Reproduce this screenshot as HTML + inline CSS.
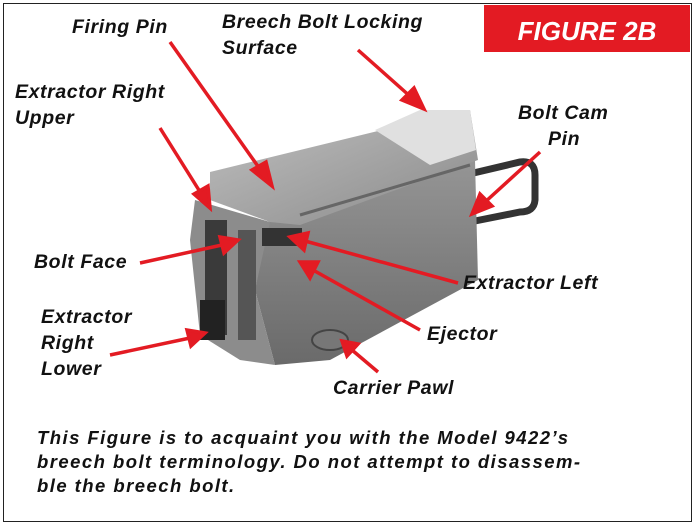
<!DOCTYPE html>
<html><head><meta charset="utf-8"><style>
html,body{margin:0;padding:0;background:#fff;}
body{width:696px;height:527px;position:relative;overflow:hidden;font-family:"Liberation Sans",sans-serif;}
.l{position:absolute;font-weight:bold;font-style:italic;font-size:19.5px;letter-spacing:0.6px;color:#111;line-height:26px;white-space:nowrap;}
</style></head><body>
<svg width="696" height="527" style="position:absolute;left:0;top:0">
<rect x="3.5" y="3.5" width="688" height="518" fill="none" stroke="#222" stroke-width="1"/>
<rect x="484" y="5" width="206" height="47" fill="#e31b23"/>
<text x="587" y="40" text-anchor="middle" font-family="Liberation Sans" font-weight="bold" font-style="italic" font-size="26" fill="#fff">FIGURE 2B</text>
<defs><linearGradient id="g1" x1="0" y1="0" x2="1" y2="1"><stop offset="0" stop-color="#c0c0c0"/><stop offset="1" stop-color="#8a8a8a"/></linearGradient>
<linearGradient id="g2" x1="0" y1="0" x2="0" y2="1"><stop offset="0" stop-color="#959595"/><stop offset="1" stop-color="#6a6a6a"/></linearGradient></defs>
<path d="M465,175 L520,162 Q535,160 535,175 L535,200 Q534,212 520,212 L470,222" fill="none" stroke="#333" stroke-width="7"/>
<polygon points="268,222 475,160 478,280 330,360 275,365 255,290" fill="url(#g2)"/>
<polygon points="195,200 270,222 255,290 275,365 240,360 200,335 190,240" fill="#8c8c8c"/>
<rect x="205" y="220" width="22" height="115" fill="#3a3a3a"/>
<rect x="238" y="230" width="18" height="110" fill="#555"/>
<rect x="200" y="300" width="25" height="40" fill="#222"/>
<polygon points="210,172 390,128 470,110 478,160 300,225 270,222 210,200" fill="url(#g1)"/>
<polygon points="375,130 420,110 470,110 476,150 430,165" fill="#e0e0e0"/>
<line x1="300" y1="215" x2="470" y2="165" stroke="#666" stroke-width="3"/>
<rect x="262" y="228" width="40" height="18" fill="#333"/>
<ellipse cx="330" cy="340" rx="18" ry="10" fill="#777" stroke="#444" stroke-width="2"/>
<g stroke="#e31b23" stroke-width="3.5" fill="#e31b23">
<line x1="170" y1="42" x2="262" y2="172"/><polygon points="272,186 252,170 266,162"/>
<line x1="358" y1="50" x2="412" y2="98"/><polygon points="424,109 402,100 414,88"/>
<line x1="160" y1="128" x2="202" y2="195"/><polygon points="210,208 194,194 208,186"/>
<line x1="540" y1="152" x2="484" y2="203"/><polygon points="472,214 480,194 492,206"/>
<line x1="140" y1="263" x2="222" y2="245"/><polygon points="238,240 220,237 224,253"/>
<line x1="458" y1="283" x2="305" y2="241"/><polygon points="290,237 308,233 304,250"/>
<line x1="110" y1="355" x2="190" y2="338"/><polygon points="205,333 187,330 191,346"/>
<line x1="420" y1="330" x2="313" y2="270"/><polygon points="300,262 318,262 310,278"/>
<line x1="378" y1="372" x2="352" y2="350"/><polygon points="342,341 358,344 347,356"/>
</g>
</svg>
<div class="l" style="left:72px;top:14px">Firing Pin</div>
<div class="l" style="left:222px;top:9px">Breech Bolt Locking<br>Surface</div>
<div class="l" style="left:15px;top:79px">Extractor Right<br>Upper</div>
<div class="l" style="left:518px;top:100px">Bolt Cam<br><span style="margin-left:30px">Pin</span></div>
<div class="l" style="left:34px;top:249px">Bolt Face</div>
<div class="l" style="left:463px;top:270px">Extractor Left</div>
<div class="l" style="left:41px;top:304px">Extractor<br>Right<br>Lower</div>
<div class="l" style="left:427px;top:321px">Ejector</div>
<div class="l" style="left:333px;top:375px">Carrier Pawl</div>
<div class="l" style="left:37px;top:426px;font-size:18.5px;letter-spacing:1.45px;line-height:24px">This Figure is to acquaint you with the Model 9422’s<br>breech bolt terminology. Do not attempt to disassem-<br>ble the breech bolt.</div>
</body></html>
